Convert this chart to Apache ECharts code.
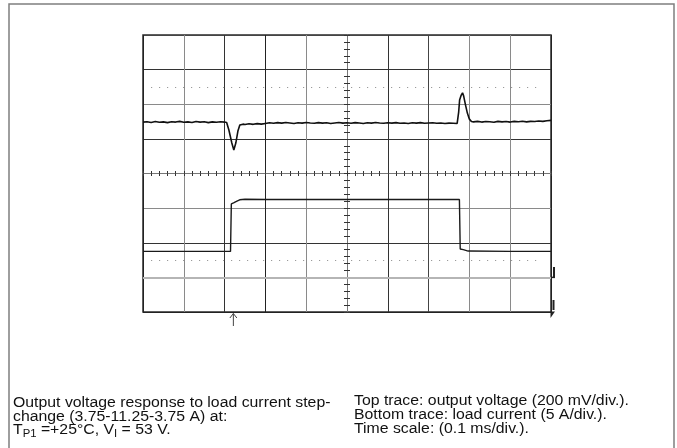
<!DOCTYPE html>
<html><head><meta charset="utf-8">
<script src="https://cdn.jsdelivr.net/npm/echarts@6/dist/echarts.min.js"></script>
<style>html,body{margin:0;padding:0;background:#fff}#c{width:677px;height:448px}</style>
</head><body><div id="c"></div>
<script>
// ---- data (time in ms, 0.1 ms/div) ----
const voltTime = [0,0.01,0.02,0.03,0.04,0.05,0.06,0.07,0.08,0.09,0.10,0.11,0.12,0.13,0.14,0.15,0.16,0.17,0.18,0.19,0.20,0.205,
  0.2105,0.2177,0.2226,0.2275,0.2326,0.2373,0.245,0.25,0.26,0.27,0.28,0.29,0.30,
  0.31,0.32,0.33,0.34,0.35,0.36,0.37,0.38,0.39,0.40,0.41,0.42,0.43,0.44,0.45,0.46,0.47,0.48,0.49,0.50,
  0.51,0.52,0.53,0.54,0.55,0.56,0.57,0.58,0.59,0.60,0.61,0.62,0.63,0.64,0.65,0.66,0.67,0.68,0.69,0.70,
  0.71,0.72,0.73,0.74,0.75,0.76,0.77,0.7737,0.776,0.78,0.7832,0.786,0.79,0.795,0.80,0.805,
  0.81,0.82,0.83,0.84,0.85,0.86,0.87,0.88,0.89,0.90,0.91,0.92,0.93,0.94,0.95,0.96,0.97,0.98,0.99,1.0];
const voltMv = [2,4,0,5,1,3,-1,4,2,6,1,3,0,5,2,4,-1,3,1,4,2,0,
  -44,-119,-159,-119,-50,-15,-10,-12,-8,-11,-7,-10,-6,
  -2,-5,-1,-4,0,-3,-6,-2,-4,0,-3,-5,-1,-4,-2,-6,-3,0,-4,-2,
  -5,-1,-3,-6,-2,-4,0,-3,-5,-2,-4,-1,-5,-3,-6,-2,-4,-1,-5,-3,
  -2,-5,-3,-6,-4,-5,-6,60,129,158,171,152,106,54,19,5,
  3,6,2,5,4,1,6,3,5,2,6,4,7,3,6,5,8,6,10,12];
const currTime = [0,0.05,0.10,0.15,0.20,0.2145,0.2165,0.222,0.229,0.237,0.25,0.30,0.35,0.40,0.45,0.50,0.55,0.60,0.65,0.70,0.7755,0.7775,0.785,0.797,0.80,0.90,1.0];
const currAmp  = [3.75,3.75,3.75,3.75,3.75,3.75,10.6,10.75,10.96,11.2,11.28,11.25,11.27,11.25,11.24,11.26,11.25,11.25,11.26,11.25,11.25,4.1,4.0,3.8,3.75,3.75,3.75];
const triggerTime = 0.2215;
const refLevelsDiv = [2.5, -2.5];
const xGridColors = ['#222','#8a8a8a','#333','#222','#8a8a8a','#777','#333','#444','#8a8a8a','#8a8a8a','#222'];
const yGridColors = ['#222','#b0b0b0','#333','#8a8a8a','#777','#333','#8a8a8a','#333','#444'];
const captionLeft = ['Output voltage response to load current step-','change (3.75-11.25-3.75 A) at:','T{s|P1} =+25°C, V{s|I} = 53 V.'];
const captionRight = ['Top trace: output voltage (200 mV/div.).','Bottom trace: load current (5 A/div.).','Time scale: (0.1 ms/div.).'];

const chart = echarts.init(document.getElementById('c'));
const volt = voltTime.map((t,i)=>[t, voltMv[i]]);
const curr = currTime.map((t,i)=>[t, currAmp[i]]);
const hid = {axisLine:{show:false,onZero:false}, axisTick:{show:false}, axisLabel:{show:false}, splitLine:{show:false}};
const centerX = (pos)=>({type:'value',min:-5,max:5,interval:1,position:pos,
  axisLine:{show:true,onZero:true,onZeroAxisIndex:0,lineStyle:{color:'#777',width:1}},
  axisTick:{show:true,length:2.5,lineStyle:{color:'#333'}},
  minorTick:{show:true,splitNumber:5,length:2.5,lineStyle:{color:'#333'}},
  axisLabel:{show:false},splitLine:{show:false}});
const centerY = (pos)=>({type:'value',min:-4,max:4,interval:1,position:pos,
  axisLine:{show:true,onZero:true,onZeroAxisIndex:1,lineStyle:{color:'#777',width:1}},
  axisTick:{show:true,length:3,lineStyle:{color:'#333'}},
  minorTick:{show:true,splitNumber:5,length:3,lineStyle:{color:'#333'}},
  axisLabel:{show:false},splitLine:{show:false}});

chart.setOption({
  animation:false,
  backgroundColor:'#fff',
  grid:{left:143,top:35,width:408,height:277,show:true,borderColor:'#2a2a2a',borderWidth:1.5,backgroundColor:'transparent'},
  xAxis:[
    {type:'value',min:0,max:1,interval:0.1,axisLine:{show:false,onZero:false},axisTick:{show:false},axisLabel:{show:false},
     splitLine:{show:true,lineStyle:{color:xGridColors,width:1}}},
    centerX('bottom'), centerX('top')
  ],
  yAxis:[
    {type:'value',min:-4,max:4,interval:1,axisLine:{show:false,onZero:false},axisTick:{show:false},axisLabel:{show:false},
     splitLine:{show:true,lineStyle:{color:yGridColors,width:1}}},
    Object.assign({type:'value',min:-1095,max:505},hid),
    Object.assign({type:'value',min:-5,max:35},hid),
    centerY('left'), centerY('right')
  ],
  series:[
    {type:'line',xAxisIndex:0,yAxisIndex:0,data:[],silent:true,
     markLine:{silent:true,symbol:'none',label:{show:false},
       lineStyle:{color:'#888',width:1,type:[1,7]},
       data:refLevelsDiv.map(v=>[{coord:[0.02,v]},{coord:[0.98,v]}])}},
    {type:'line',xAxisIndex:0,yAxisIndex:2,data:curr,showSymbol:false,silent:true,
     lineStyle:{color:'#1a1a1a',width:1.4},
     markLine:{silent:true,symbol:'none',label:{show:false},lineStyle:{color:'#b5b5b5',width:2,type:'solid'},data:[{yAxis:0}]}},
    {type:'line',xAxisIndex:0,yAxisIndex:1,data:volt,showSymbol:false,silent:true,
     lineStyle:{color:'#111',width:1.6}}
  ]
});

const ax = chart.convertToPixel({xAxisIndex:0}, triggerTime);
const gy = chart.convertToPixel({yAxisIndex:2}, 0);
const font = '"Liberation Sans", Arial, sans-serif';
const txt = (s, x, y) => ({type:'text', x:x, y:y, scaleX:1.13, silent:true,
  style:{text:s, x:0, y:0, fill:'#111', font:'14px '+font, verticalAlign:'middle',
    rich:{s:{fontSize:10, fontFamily:font, fill:'#111', padding:[7,0,0,0]}}}});
const g = [
  {type:'rect',shape:{x:9,y:4,width:665,height:470},style:{fill:'none',stroke:'#7f7f7f',lineWidth:1.5},silent:true},
  {type:'polyline',shape:{points:[[ax-3.5,318],[ax,313.5],[ax+3.5,318]]},style:{stroke:'#444',fill:'none',lineWidth:1},silent:true},
  {type:'line',shape:{x1:ax,y1:313.5,x2:ax,y2:326},style:{stroke:'#444',lineWidth:1},silent:true},
  {type:'line',shape:{x1:551,y1:gy,x2:555,y2:gy},style:{stroke:'#222',lineWidth:1.5},silent:true},
  {type:'rect',shape:{x:553,y:gy-10.5,width:2,height:10.5},style:{fill:'#222'},silent:true},
  {type:'rect',shape:{x:552.5,y:300,width:2,height:10},style:{fill:'#222'},silent:true},
  {type:'polygon',shape:{points:[[550.5,311.5],[555,311.5],[550.5,318]]},style:{fill:'#222'},silent:true}
];
captionLeft.forEach((s,i)=>g.push(txt(s,13,403+i*13.7)));
captionRight.forEach((s,i)=>g.push(txt(s,354,401.5+i*13.7)));
chart.setOption({graphic:g});
</script></body></html>
